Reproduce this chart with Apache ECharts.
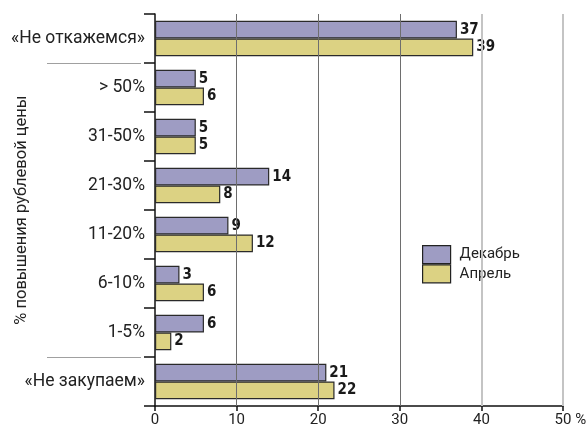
<!DOCTYPE html>
<html><head><meta charset="utf-8">
<script src="https://cdn.jsdelivr.net/npm/echarts@6/dist/echarts.min.js"></script>
<style>html,body{margin:0;padding:0;background:#fff}#c{width:587px;height:432px}</style>
</head><body><div id="c"></div>
<script>
const categories = ['«Не откажемся»', '> 50%', '31-50%', '21-30%', '11-20%', '6-10%', '1-5%', '«Не закупаем»'];
const december = [37, 5, 5, 14, 9, 3, 6, 21];
const april = [39, 6, 5, 8, 12, 6, 2, 22];
const seriesNames = ['Декабрь', 'Апрель'];
const xTicks = [0, 10, 20, 30, 40, 50];
const gridValues = [10, 20, 30, 40, 50];

const FONT = 'Roboto, "Liberation Sans", sans-serif';
const chart = echarts.init(document.getElementById('c'));
const labelStyle = {show: true, position: 'right', distance: 3, fontFamily: '"Liberation Sans Narrow","DejaVu Sans Condensed",Roboto,sans-serif', fontWeight: 'bold', fontSize: 15, color: '#1a1a1a'};
chart.setOption({
  animation: false,
  grid: {left: 155, right: 24, top: 14, bottom: 26, containLabel: false, outerBoundsMode: 'none'},
  legend: {
    data: seriesNames, orient: 'vertical', left: 422, top: 245, itemGap: 0, padding: 0,
    itemWidth: 28, itemHeight: 18, icon: 'rect',
    itemStyle: {borderColor: '#222', borderWidth: 1.2},
    textStyle: {fontFamily: FONT, fontSize: 15, color: '#222', lineHeight: 18, padding: [0, 0, 0, 4]}
  },
  xAxis: {
    type: 'value', min: 0, max: 50, interval: 10,
    axisLine: {show: true, lineStyle: {color: '#111', width: 1.5}},
    axisTick: {show: true, length: 5, lineStyle: {color: '#111', width: 1.5}},
    splitLine: {show: false},
    axisLabel: {
      fontFamily: FONT, fontSize: 15, color: '#222', margin: 7,
      formatter: v => v === xTicks[xTicks.length - 1] ? '{h|% }' + v + '{s| %}' : String(v),
      rich: {h: {color: 'transparent', fontFamily: FONT, fontSize: 15}, s: {color: '#222', fontFamily: FONT, fontSize: 15}}
    }
  },
  yAxis: {
    type: 'category', data: categories, inverse: true,
    axisLine: {show: true, lineStyle: {color: '#111', width: 1.5}},
    axisTick: {show: true, length: 11, lineStyle: {color: '#111', width: 1.5}},
    axisLabel: {fontFamily: FONT, fontSize: 17.5, color: '#222', margin: 10},
    name: '% повышения рублевой цены', nameLocation: 'middle', nameGap: 125, nameRotate: 90,
    nameMoveOverlap: false,
    nameTextStyle: {fontFamily: FONT, fontSize: 16.5, color: '#222'}
  },
  series: [
    {
      name: seriesNames[0], type: 'bar', data: december, barGap: '0%', barCategoryGap: '28%',
      itemStyle: {color: '#9e9cc3', borderColor: '#2a2a2a', borderWidth: 1.2},
      label: labelStyle,
      markLine: {
        silent: true, symbol: 'none', label: {show: false},
        data: gridValues.map(v => ({xAxis: v, lineStyle: {color: v >= 40 ? '#c4c4c4' : '#6e6e6e', width: v >= 40 ? 2 : 1, type: 'solid'}}))
      }
    },
    {
      name: seriesNames[1], type: 'bar', data: april,
      itemStyle: {color: '#dcd283', borderColor: '#2a2a2a', borderWidth: 1.2},
      label: labelStyle
    }
  ]
});
function sep(i) {
  const a = chart.convertToPixel({yAxisIndex: 0}, categories[i]);
  const b = chart.convertToPixel({yAxisIndex: 0}, categories[i + 1]);
  const y = Math.round((a + b) / 2) + 0.5;
  return {type: 'line', shape: {x1: 47, y1: y, x2: 141, y2: y}, style: {stroke: '#a0a0a0', lineWidth: 1}};
}
chart.setOption({graphic: [sep(0), sep(categories.length - 2)]});
</script></body></html>
